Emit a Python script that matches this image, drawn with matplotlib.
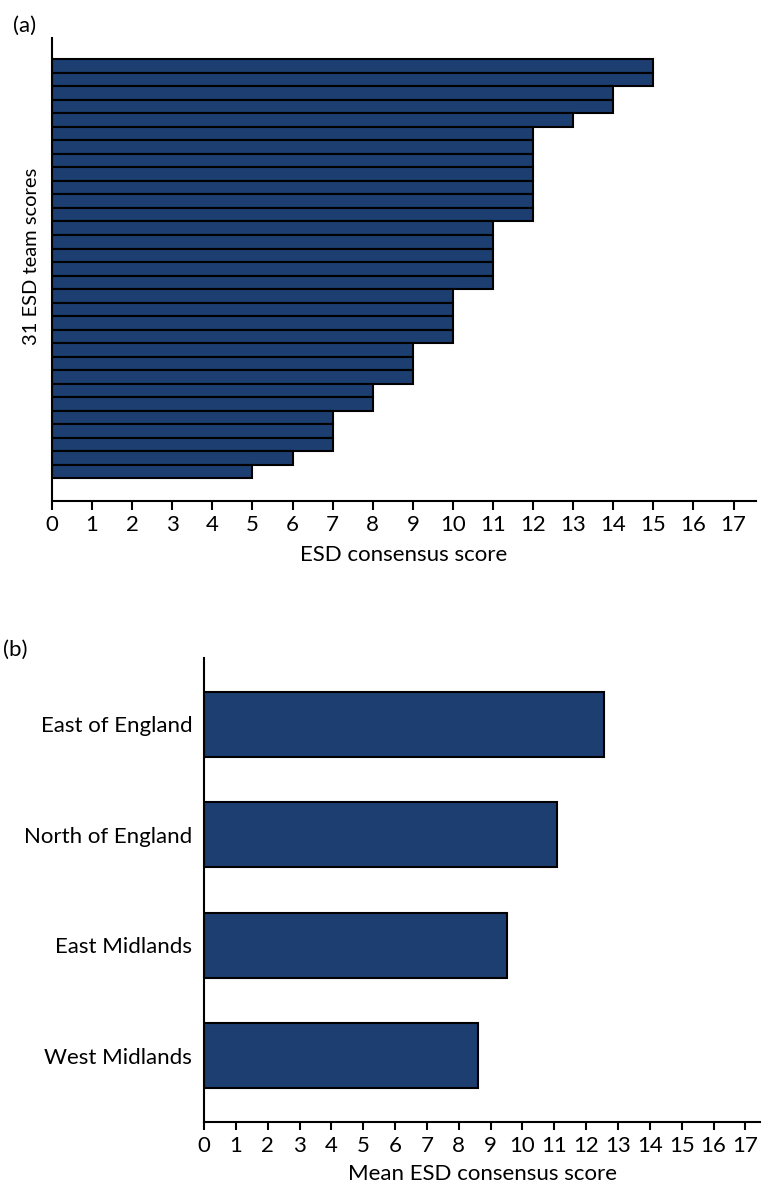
import matplotlib
matplotlib.use("Agg")
import matplotlib.pyplot as plt

plt.rcParams['font.family'] = ['Lato', 'DejaVu Sans']

# Panel (a): 31 ESD team scores, top to bottom
team_scores = [15, 15, 14, 14, 13,
               12, 12, 12, 12, 12, 12, 12,
               11, 11, 11, 11, 11,
               10, 10, 10, 10,
               9, 9, 9,
               8, 8,
               7, 7, 7,
               6,
               5]

# Panel (b): mean score by region
regions = ["East of England", "North of England", "East Midlands", "West Midlands"]
region_means = [12.55, 11.1, 9.52, 8.6]

x_ticks = list(range(0, 18))

W, H = 762, 1188
fig = plt.figure(figsize=(W / 100, H / 100), dpi=100)

BAR = "#1c3e70"
FS = 16

def px_axes(l, t, r, b):
    return fig.add_axes([l / W, (H - b) / H, (r - l) / W, (b - t) / H])

# ---- (a) ----
ax1 = px_axes(52, 38, 756, 500.5)
ypos = list(range(len(team_scores)))
ax1.barh(ypos, team_scores, height=1.0, color=BAR, edgecolor="black", linewidth=1.5)
ax1.set_ylim(len(team_scores) - 1 + 2.14, -2.075)
ax1.set_xlim(0, 17.56)
ax1.set_xticks(x_ticks)
ax1.set_xticklabels([str(t) for t in x_ticks], fontsize=FS)
ax1.set_yticks([])
ax1.set_xlabel("ESD consensus score", fontsize=FS, labelpad=7)
for s in ["top", "right"]:
    ax1.spines[s].set_visible(False)
for s in ["left", "bottom"]:
    ax1.spines[s].set_linewidth(1.5)
ax1.tick_params(axis="x", length=6.5, width=1.5, direction="out", pad=4)
fig.text(32 / W, 1 - 256 / H, "31 ESD team scores", fontsize=14.5,
         rotation=90, ha="center", va="center")

# ---- (b) ----
ax2 = px_axes(204, 658, 760, 1122)
rpos = list(range(len(regions)))
ax2.barh(rpos, region_means, height=0.592, color=BAR, edgecolor="black", linewidth=1.5)
ax2.set_ylim(len(regions) - 1 + 0.6, -0.6)
ax2.set_xlim(0, 17.46)
ax2.set_xticks(x_ticks)
ax2.set_xticklabels([str(t) for t in x_ticks], fontsize=FS)
ax2.set_yticks(rpos)
ax2.set_yticklabels(regions, fontsize=FS)
ax2.set_xlabel("Mean ESD consensus score", fontsize=FS, labelpad=6)
for s in ["top", "right"]:
    ax2.spines[s].set_visible(False)
for s in ["left", "bottom"]:
    ax2.spines[s].set_linewidth(1.5)
ax2.tick_params(axis="x", length=6, width=1.5, direction="out", pad=4)
ax2.tick_params(axis="y", length=0, pad=8.5)

fig.text(13 / W, 1 - 26 / H, "(a)", fontsize=FS, ha="left", va="center")
fig.text(3 / W, 1 - 650 / H, "(b)", fontsize=FS, ha="left", va="center")

fig.savefig("out.png", dpi=100)
